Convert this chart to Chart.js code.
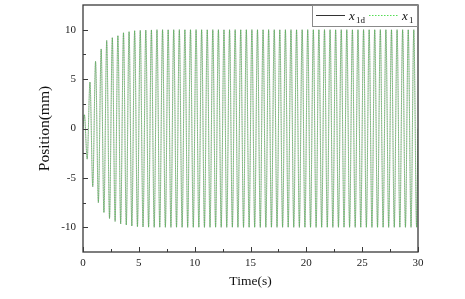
<!DOCTYPE html>
<html>
<head>
<meta charset="utf-8">
<script src="https://cdn.jsdelivr.net/npm/chart.js@4/dist/chart.umd.min.js"></script>
<style>
html,body{margin:0;padding:0;background:#fff;}
#c{display:block;}
</style>
</head>
<body>
<canvas id="c" width="465" height="299"></canvas>
<script>
// ---- data ----
const startPoint = {t: 0, v: 0};
const endPoint = {t: 30, v: 0};
const peakTimes = [0.125,0.625,1.125,1.625,2.125,2.625,3.125,3.625,4.125,4.625,
  5.125,5.625,6.125,6.625,7.125,7.625,8.125,8.625,9.125,9.625,
  10.125,10.625,11.125,11.625,12.125,12.625,13.125,13.625,14.125,14.625,
  15.125,15.625,16.125,16.625,17.125,17.625,18.125,18.625,19.125,19.625,
  20.125,20.625,21.125,21.625,22.125,22.625,23.125,23.625,24.125,24.625,
  25.125,25.625,26.125,26.625,27.125,27.625,28.125,28.625,29.125,29.625];
const peakValues = [1.4,4.7,6.8,8.05,8.9,9.2,9.4,9.7,9.8,9.9,
  9.93,9.96,9.98,10,10,10,10,10,10,10,
  10,10,10,10,10,10,10,10,10,10,
  10,10,10,10,10,10,10,10,10,10,
  10,10,10,10,10,10,10,10,10,10,
  10,10,10,10,10,10,10,10,10,10];
const troughTimes = [0.375,0.875,1.375,1.875,2.375,2.875,3.375,3.875,4.375,4.875,
  5.375,5.875,6.375,6.875,7.375,7.875,8.375,8.875,9.375,9.875,
  10.375,10.875,11.375,11.875,12.375,12.875,13.375,13.875,14.375,14.875,
  15.375,15.875,16.375,16.875,17.375,17.875,18.375,18.875,19.375,19.875,
  20.375,20.875,21.375,21.875,22.375,22.875,23.375,23.875,24.375,24.875,
  25.375,25.875,26.375,26.875,27.375,27.875,28.375,28.875,29.375,29.875];
const troughValues = [-3.1,-5.9,-7.5,-8.5,-9.1,-9.4,-9.65,-9.77,-9.87,-9.94,
  -9.97,-9.99,-10,-10,-10,-10,-10,-10,-10,-10,
  -10,-10,-10,-10,-10,-10,-10,-10,-10,-10,
  -10,-10,-10,-10,-10,-10,-10,-10,-10,-10,
  -10,-10,-10,-10,-10,-10,-10,-10,-10,-10,
  -10,-10,-10,-10,-10,-10,-10,-10,-10,-10];
const xTickValues = [0,5,10,15,20,25,30];
const xMinorTicks = [2.5,7.5,12.5,17.5,22.5,27.5];
const yTickValues = [-10,-5,0,5,10];
const yMinorTicks = [-7.5,-2.5,2.5,7.5];
const seriesNames = ['x1d','x1'];

// build point list (x1 tracks x1d and overlaps it in the picture)
function buildPoints(){
  const pts = [{x:startPoint.t, y:startPoint.v}];
  for (let i = 0; i < peakTimes.length; i++) {
    pts.push({x:peakTimes[i], y:peakValues[i]});
    pts.push({x:troughTimes[i], y:troughValues[i]});
  }
  pts.push({x:endPoint.t, y:endPoint.v});
  return pts;
}
const x1dPoints = buildPoints();
const x1Points = buildPoints();

const SERIF = '"Liberation Serif","Times New Roman",serif';

const framePlugin = {
  id: 'frame',
  afterDraw(chart){
    const ctx = chart.ctx;
    const a = chart.chartArea;
    const xs = chart.scales.x, ys = chart.scales.y;
    ctx.save();
    ctx.strokeStyle = '#3a3a3a';
    ctx.lineWidth = 1.3;
    ctx.strokeRect(a.left, a.top, a.right - a.left, a.bottom - a.top);
    ctx.lineWidth = 1;
    ctx.beginPath();
    xTickValues.forEach(v => { const p = Math.round(xs.getPixelForValue(v)) + 0.5; ctx.moveTo(p, a.bottom); ctx.lineTo(p, a.bottom - 5); });
    xMinorTicks.forEach(v => { const p = Math.round(xs.getPixelForValue(v)) + 0.5; ctx.moveTo(p, a.bottom); ctx.lineTo(p, a.bottom - 3); });
    yTickValues.forEach(v => { const p = Math.round(ys.getPixelForValue(v)) + 0.5; ctx.moveTo(a.left, p); ctx.lineTo(a.left + 5, p); });
    yMinorTicks.forEach(v => { const p = Math.round(ys.getPixelForValue(v)) + 0.5; ctx.moveTo(a.left, p); ctx.lineTo(a.left + 3, p); });
    ctx.stroke();

    // legend box
    const bx = 312, by = a.top, bw = a.right - 312, bh = 22;
    ctx.fillStyle = '#fff';
    ctx.fillRect(bx, by, bw, bh);
    ctx.strokeStyle = '#8a8a8a';
    ctx.lineWidth = 1;
    ctx.strokeRect(bx + 0.5, by + 0.5, bw - 1, bh - 1);
    const ly = by + 10.5;
    ctx.strokeStyle = '#333';
    ctx.lineWidth = 1;
    ctx.beginPath(); ctx.moveTo(316, ly); ctx.lineTo(345, ly); ctx.stroke();
    ctx.strokeStyle = '#55dd55';
    ctx.setLineDash([1.5,1.5]);
    ctx.beginPath(); ctx.moveTo(369, ly); ctx.lineTo(398, ly); ctx.stroke();
    ctx.setLineDash([]);
    ctx.fillStyle = '#111';
    ctx.textBaseline = 'alphabetic';
    ctx.textAlign = 'left';
    ctx.font = 'italic 13px ' + SERIF;
    ctx.fillText('x', 349, ly + 4);
    ctx.fillText('x', 402, ly + 4);
    ctx.font = '9px ' + SERIF;
    ctx.fillText('1d', 356, ly + 7);
    ctx.fillText('1', 409, ly + 7);
    ctx.restore();
  }
};

new Chart(document.getElementById('c'), {
  type: 'line',
  data: {
    datasets: [
      { label: seriesNames[1], data: x1Points, borderColor: 'rgba(60,215,60,0.8)', borderWidth: 0.7,
        borderDash: [1.2,1.2], pointRadius: 0, cubicInterpolationMode: 'monotone', fill: false },
      { label: seriesNames[0], data: x1dPoints, borderColor: 'rgba(0,0,0,0.6)', borderWidth: 0.5,
        pointRadius: 0, cubicInterpolationMode: 'monotone', fill: false }
    ]
  },
  options: {
    responsive: false,
    animation: false,
    parsing: false,
    normalized: true,
    layout: { padding: { left: 0, right: 47, top: 5, bottom: 0 } },
    plugins: { legend: { display: false }, tooltip: { enabled: false } },
    scales: {
      x: {
        type: 'linear', min: 0, max: 30,
        grid: { display: false, drawTicks: false },
        border: { display: false },
        afterBuildTicks: s => { s.ticks = xTickValues.map(v => ({value: v})); },
        afterFit: s => { s.height = 47; s.paddingLeft = 0; s.paddingRight = 0; },
        ticks: { color: '#222', padding: 5, maxRotation: 0, autoSkip: false,
          font: { family: SERIF, size: 11 } },
        title: { display: true, text: 'Time(s)', color: '#111',
          font: { family: SERIF, size: 13.5 }, padding: { top: 0, bottom: 9 } }
      },
      y: {
        type: 'linear', min: -12.5, max: 12.5,
        grid: { display: false, drawTicks: false },
        border: { display: false },
        afterBuildTicks: s => { s.ticks = yTickValues.map(v => ({value: v})); },
        afterFit: s => { s.width = 83; s.paddingTop = 0; s.paddingBottom = 0; },
        ticks: { color: '#222', padding: 7, autoSkip: false,
          font: { family: SERIF, size: 11 } },
        title: { display: true, text: 'Position(mm)', color: '#111',
          font: { family: SERIF, size: 15.5 }, padding: { top: 35.5, bottom: 0 } }
      }
    }
  },
  plugins: [framePlugin]
});
</script>
</body>
</html>
